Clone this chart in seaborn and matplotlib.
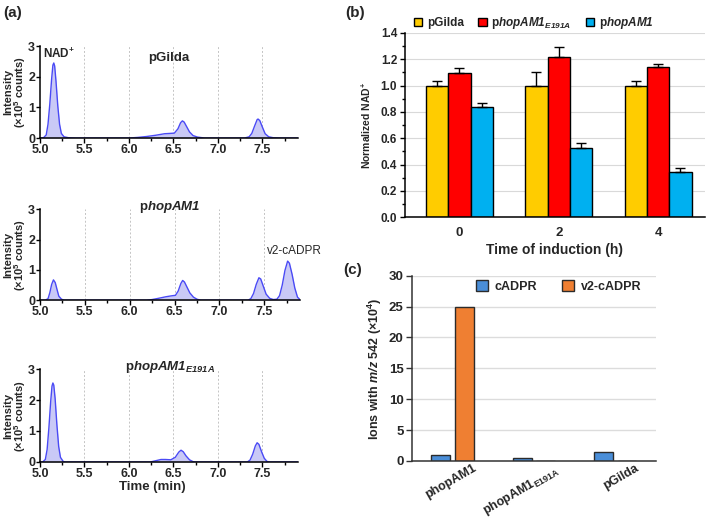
import numpy as np
import pandas as pd
import seaborn as sns
import matplotlib.pyplot as plt
from matplotlib.patches import Patch
from matplotlib.ticker import MultipleLocator, FormatStrFormatter
from matplotlib.transforms import ScaledTranslation

sns.set_theme(style='ticks')
plt.rcParams['font.family'] = ['Liberation Sans', 'DejaVu Sans']
plt.rcParams['font.weight'] = 'bold'
plt.rcParams['axes.labelweight'] = 'bold'
# mathtext: \mathrm -> bold italic (gene names), \mathbf -> bold upright
plt.rcParams['mathtext.fontset'] = 'custom'
plt.rcParams['mathtext.rm'] = 'Liberation Sans:italic:bold'
plt.rcParams['mathtext.it'] = 'Liberation Sans:italic:bold'
plt.rcParams['mathtext.bf'] = 'Liberation Sans:bold'
plt.rcParams['mathtext.sf'] = 'Liberation Sans:bold'

# --- (a) chromatograms, values ---
t_gilda = [5.00, 5.04, 5.07, 5.09, 5.11, 5.13, 5.145, 5.155, 5.165, 5.18, 5.20, 5.22, 5.24, 5.27,
           5.32, 5.40, 6.00, 6.10, 6.20, 6.30, 6.40, 6.46, 6.51, 6.55, 6.58, 6.60, 6.62, 6.65,
           6.68, 6.72, 6.77, 6.85, 7.30, 7.35, 7.38, 7.41, 7.44, 7.45, 7.47, 7.50, 7.53, 7.57,
           7.62, 7.70, 7.90]
i_gilda = [0.00, 0.01, 0.10, 0.45, 1.10, 1.90, 2.38, 2.45, 2.35, 1.85, 1.05, 0.45, 0.15, 0.04,
           0.01, 0.00, 0.00, 0.02, 0.05, 0.09, 0.14, 0.15, 0.16, 0.30, 0.50, 0.56, 0.52, 0.36,
           0.20, 0.08, 0.03, 0.00, 0.00, 0.04, 0.15, 0.38, 0.60, 0.62, 0.57, 0.35, 0.14, 0.04,
           0.01, 0.00, 0.00]

t_hop = [5.00, 5.06, 5.09, 5.11, 5.13, 5.15, 5.17, 5.19, 5.21, 5.24, 5.27, 6.19, 6.25, 6.32,
         6.40, 6.46, 6.51, 6.54, 6.57, 6.59, 6.61, 6.64, 6.67, 6.71, 6.75, 6.79, 7.32, 7.35,
         7.38, 7.41, 7.44, 7.46, 7.49, 7.52, 7.56, 7.60, 7.64, 7.67, 7.70, 7.73, 7.76, 7.78,
         7.81, 7.84, 7.87, 7.90]
i_hop = [0.00, 0.00, 0.05, 0.25, 0.52, 0.67, 0.58, 0.35, 0.13, 0.03, 0.00, 0.00, 0.02, 0.06,
         0.11, 0.14, 0.16, 0.30, 0.55, 0.65, 0.60, 0.42, 0.24, 0.10, 0.03, 0.00, 0.00, 0.05,
         0.22, 0.52, 0.74, 0.70, 0.45, 0.20, 0.06, 0.02, 0.03, 0.15, 0.50, 0.98, 1.29, 1.22,
         0.85, 0.40, 0.10, 0.01]

t_mut = [5.00, 5.03, 5.06, 5.08, 5.10, 5.12, 5.135, 5.145, 5.155, 5.17, 5.19, 5.21, 5.23, 5.26,
         5.28, 6.24, 6.30, 6.36, 6.41, 6.47, 6.52, 6.56, 6.585, 6.61, 6.64, 6.68, 6.72, 6.74,
         7.33, 7.36, 7.39, 7.42, 7.44, 7.46, 7.49, 7.52, 7.55, 7.57, 7.90]
i_mut = [0.00, 0.00, 0.08, 0.40, 1.10, 1.95, 2.45, 2.55, 2.48, 2.05, 1.20, 0.50, 0.15, 0.02,
         0.00, 0.00, 0.04, 0.08, 0.08, 0.07, 0.15, 0.32, 0.38, 0.33, 0.20, 0.07, 0.01, 0.00,
         0.00, 0.06, 0.25, 0.52, 0.62, 0.57, 0.33, 0.12, 0.02, 0.00, 0.00]

# --- (b) normalized NAD+ ---
times = ['0', '2', '4']
strains_b = ['pGilda', 'phopAM1_E191A', 'phopAM1']
nad_gilda = [1.0, 1.0, 1.0]
nad_mut = [1.095, 1.215, 1.14]
nad_hop = [0.835, 0.525, 0.345]
err_gilda = [0.035, 0.105, 0.035]
err_mut = [0.035, 0.08, 0.02]
err_hop = [0.035, 0.035, 0.025]

# --- (c) ions with m/z 542 ---
strains_c = ['phopAM1', 'phopAM1_E191A', 'pGilda']
ions_cadpr = [1.0, 0.5, 1.5]
ions_v2 = [25.0, 0.0, 0.0]

line_c = '#4a4af5'
fill_c = '#c9c9f6'

fig = plt.figure(figsize=(7.09, 5.22), dpi=100)


def chrom(rect, t, y):
    ax = fig.add_axes(rect)
    for v in [5.5, 6.0, 6.5, 7.0, 7.5]:
        ax.axvline(v, color='#c4c4c4', ls=(0, (2, 2)), lw=0.7, zorder=0)
    ax.fill_between(t, y, color=fill_c, lw=0, zorder=1)
    sns.lineplot(x=t, y=y, ax=ax, color=line_c, linewidth=1.0, zorder=2)
    ax.set_xlim(5.0, 7.9)
    ax.set_ylim(0, 3)
    ax.set_xticks([5.0, 5.5, 6.0, 6.5, 7.0, 7.5])
    ax.xaxis.set_minor_locator(MultipleLocator(0.25))
    ax.xaxis.set_major_formatter(FormatStrFormatter('%.1f'))
    ax.set_yticks([0, 1, 2, 3])
    ax.tick_params(labelsize=9, length=3.5, width=1, pad=1, color='black')
    ax.tick_params(axis='y', pad=0.5, length=3)
    ax.tick_params(which='minor', length=2.5, width=1, color='black')
    for s in ['left', 'bottom']:
        ax.spines[s].set_color('black')
        ax.spines[s].set_linewidth(1.1)
    sns.despine(ax=ax)
    ax.set_ylabel('Intensity\n(×10$^{\\mathbf{5}}$ counts)', fontsize=8, linespacing=0.95)
    ax.yaxis.set_label_coords(-0.045, 0.5)
    ax.set_xlabel('')
    return ax


ax1 = chrom([0.0564, 0.7356, 0.364, 0.176], t_gilda, i_gilda)
ax1.text(5.03, 2.98, r'NAD$^{\mathbf{+}}$', fontsize=8.5, va='top', ha='left')
ax1.text(6.45, 2.6, 'pGilda', fontsize=9.5, ha='center', va='center')

ax2 = chrom([0.0564, 0.425, 0.367, 0.174], t_hop, i_hop)
ax2.text(6.45, 3.08, r'p$\mathrm{hopAM1}$', fontsize=9.5, ha='center', va='center')
ax2.text(7.83, 1.62, 'v2-cADPR', fontsize=8.5, ha='center', va='center', fontweight='normal')

ax3 = chrom([0.0564, 0.115, 0.364, 0.178], t_mut, i_mut)
ax3.text(6.46, 3.08, r'p$\mathrm{hopAM1}_{\mathrm{E191A}}$', fontsize=9.5, ha='center', va='center')
ax3.set_xlabel('Time (min)', fontsize=9.5)
ax3.xaxis.set_label_coords(0.434, -0.2)

# --- panel b ---
rows = []
for s, vals in zip(strains_b, [nad_gilda, nad_mut, nad_hop]):
    for t, v in zip(times, vals):
        rows.append((t, s, v))
df_b = pd.DataFrame(rows, columns=['time', 'strain', 'nad'])
colors_b = ['#ffcc00', '#ff0000', '#00b0f0']

axb = fig.add_axes([0.571, 0.584, 0.423, 0.353])
sns.barplot(data=df_b, x='time', y='nad', hue='strain', hue_order=strains_b, palette=colors_b,
            width=0.675, edgecolor='black', linewidth=1, errorbar=None, saturation=1,
            legend=False, ax=axb)
for cont, errs in zip(axb.containers, [err_gilda, err_mut, err_hop]):
    xs = [p.get_x() + p.get_width() / 2 for p in cont]
    hs = [p.get_height() for p in cont]
    axb.errorbar(xs, hs, yerr=[np.zeros(len(errs)), errs], fmt='none', ecolor='black',
                 elinewidth=1, capsize=3.6, capthick=1, zorder=3)
axb.set_xlim(-0.55, 2.47)
axb.set_ylim(0, 1.4)
axb.yaxis.set_major_locator(MultipleLocator(0.2))
axb.yaxis.set_minor_locator(MultipleLocator(0.1))
axb.yaxis.set_major_formatter(FormatStrFormatter('%.1f'))
axb.yaxis.grid(True, color='#d9d9d9', lw=0.8)
axb.set_axisbelow(True)
axb.tick_params(axis='y', labelsize=8.5, length=3.5, width=1, color='black', pad=2)
axb.tick_params(axis='y', which='minor', length=2, width=1, color='black')
axb.tick_params(axis='x', labelsize=9.5, length=0, pad=7)
for s in ['left', 'bottom']:
    axb.spines[s].set_color('black')
    axb.spines[s].set_linewidth(1.1)
sns.despine(ax=axb)
axb.set_ylabel(r'Normalized NAD$^{\mathbf{+}}$', fontsize=7.5)
axb.yaxis.set_label_coords(-0.105, 0.5)
axb.set_xlabel('Time of induction (h)', fontsize=10, labelpad=3)

labels_b = ['pGilda', r'p$\mathrm{hopAM1}_{\mathrm{E191A}}$', r'p$\mathrm{hopAM1}$']
handles_b = [Patch(facecolor=c, edgecolor='black', lw=1) for c in colors_b]
fig.legend(handles_b, labels_b, loc='center', bbox_to_anchor=(0.753, 0.956), ncol=3,
           frameon=False, fontsize=8.5, handlelength=0.7, handleheight=0.7,
           handletextpad=0.4, columnspacing=1.2)

# --- panel c ---
rows = []
for s, vals in zip(['cADPR', 'v2-cADPR'], [ions_cadpr, ions_v2]):
    for g, v in zip(strains_c, vals):
        rows.append((g, s, v))
df_c = pd.DataFrame(rows, columns=['strain', 'ion', 'count'])
colors_c = ['#4a8ed8', '#ef7f32']

axc = fig.add_axes([0.581, 0.117, 0.344, 0.355])
sns.barplot(data=df_c, x='strain', y='count', hue='ion', palette=colors_c, width=0.58, gap=0.2,
            edgecolor='#2b2b2b', linewidth=1, errorbar=None, saturation=1, ax=axc)
axc.set_xlim(-0.5, 2.5)
axc.set_ylim(0, 30)
axc.set_yticks([0, 5, 10, 15, 20, 25, 30])
axc.yaxis.grid(True, color='#dcdcdc', lw=1)
axc.set_axisbelow(True)
axc.tick_params(axis='y', labelsize=9.5, length=4, width=1, color='#333333', pad=2)
axc.tick_params(axis='x', length=0, labelsize=9, pad=1)
for s in ['left', 'bottom']:
    axc.spines[s].set_color('#333333')
    axc.spines[s].set_linewidth(1.1)
sns.despine(ax=axc)
axc.set_xticks([0, 1, 2])
axc.set_xticklabels(['phopAM1', r'phopAM1$_{\mathbf{E191A}}$', 'pGilda'], rotation=30,
                    ha='right', rotation_mode='anchor')
for lab in axc.get_xticklabels():
    lab.set_transform(lab.get_transform() + ScaledTranslation(0.2, 0, fig.dpi_scale_trans))
axc.set_xlabel('')
axc.set_ylabel(r'Ions with $\mathrm{m/z}$ 542 (×10$^{\mathbf{4}}$)', fontsize=9)
axc.yaxis.set_label_coords(-0.115, 0.5)
axc.legend(loc='center', bbox_to_anchor=(0.6, 0.94), ncol=2, frameon=False, fontsize=9,
           handlelength=1.0, handleheight=0.9, handletextpad=0.5, columnspacing=2.0,
           title=None)

fig.text(0.004, 0.988, '(a)', fontsize=11, va='top', ha='left')
fig.text(0.487, 0.988, '(b)', fontsize=11, va='top', ha='left')
fig.text(0.484, 0.497, '(c)', fontsize=11, va='top', ha='left')

fig.savefig('out.png', dpi=100)
